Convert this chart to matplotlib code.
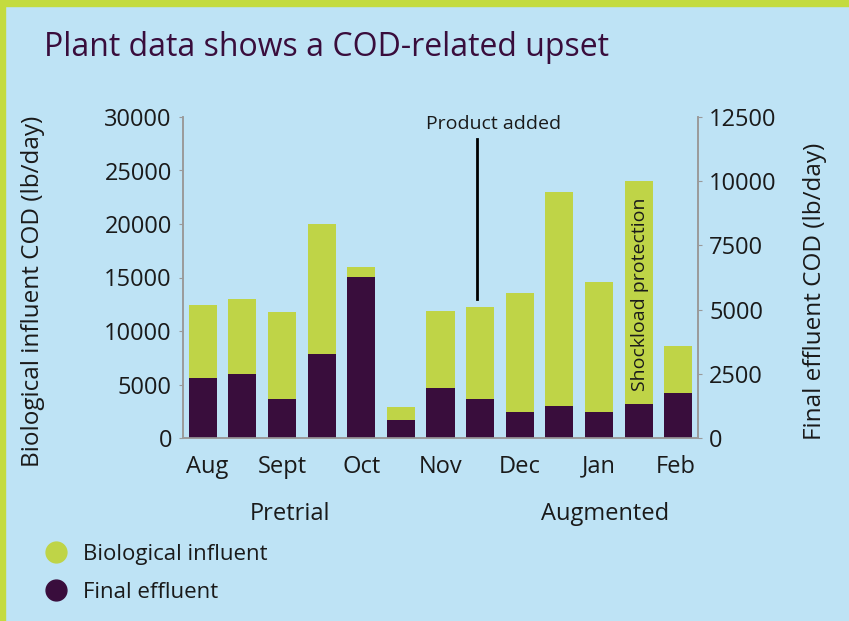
import matplotlib
matplotlib.use("Agg")
from matplotlib import pyplot as plt
from matplotlib.lines import Line2D
from matplotlib.patches import Rectangle

plt.rcParams['font.family'] = ['Open Sans', 'DejaVu Sans']

# data (lb/day)
influent = [12430, 12960, 11750, 20000, 15980, 2930, 11900,
            12240, 13520, 23020, 14550, 24020, 8570]
effluent = [2325, 2480, 1520, 3270, 6280, 700, 1960,
            1520, 1000, 1230, 1000, 1310, 1740]
months = ["Aug", "Sept", "Oct", "Nov", "Dec", "Jan", "Feb"]
month_pos = [0.1, 2, 4, 6, 8, 10, 11.95]
phases = ["Pretrial", "Augmented"]
phase_pos = [2.2, 10.15]

bg = "#bee3f5"
green = "#bfd447"
purple = "#390d3c"
spine = "#9a9a9a"
text_col = "#1a1a1a"

fig = plt.figure(figsize=(8.49, 6.21), dpi=100)
fig.patch.set_facecolor(bg)
# border strips at top and left
fig.patches.append(Rectangle((0, 1 - 6 / 621), 1, 6 / 621, transform=fig.transFigure,
                             color="#c4db3f", zorder=0))
fig.patches.append(Rectangle((0, 0), 5 / 849, 1, transform=fig.transFigure,
                             color="#c4db3f", zorder=0))

ax = fig.add_axes([183 / 849, 1 - 438 / 621, (698 - 183) / 849, (438 - 117) / 621])
ax.set_facecolor("none")
ax2 = ax.twinx()

x = list(range(len(influent)))
ax.bar(x, influent, width=0.71, color=green)
ax2.bar(x, effluent, width=0.71, color=purple)

ax.set_xlim(-0.5, 12.5)
ax.set_ylim(0, 30000)
ax2.set_ylim(0, 12500)
ax.set_yticks(range(0, 30001, 5000))
ax2.set_yticks(range(0, 12501, 2500))
ax.set_xticks(month_pos)
ax.set_xticklabels(months)

for a in (ax, ax2):
    a.spines['top'].set_visible(False)
    for s in ('left', 'right', 'bottom'):
        a.spines[s].set_color(spine)
        a.spines[s].set_linewidth(1.2)
    a.tick_params(axis='y', length=3, color=spine, labelsize=17, labelcolor=text_col, pad=5)
ax.tick_params(axis='x', length=0, labelsize=17, labelcolor=text_col, pad=12)

ax.set_ylabel("Biological influent COD (lb/day)", fontsize=17.5, color=text_col)
ax2.set_ylabel("Final effluent COD (lb/day)", fontsize=17.5, color=text_col)
ax.yaxis.set_label_coords(-0.268, 0.457)
ax2.yaxis.set_label_coords(1.204, 0.457)

for name, pos in zip(phases, phase_pos):
    ax.text(pos, -7100, name, ha='center', va='center', fontsize=17, color=text_col)

# annotations
ax.plot([6.91, 6.91], [12960, 27900], color="black", lw=2)
ax.text(7.35, 29300, "Product added", ha='center', va='center', fontsize=14, color=text_col)
ax.text(11.03, 4350, "Shockload protection", rotation=90, ha='center', va='bottom',
        fontsize=14, color=text_col)

fig.text(44 / 849, 1 - 48 / 621, "Plant data shows a COD-related upset", fontsize=23,
         color=purple, va='center', ha='left')

handles = [Line2D([], [], marker='o', ls='', markersize=15, color=green),
           Line2D([], [], marker='o', ls='', markersize=15, color=purple)]
fig.legend(handles, ["Biological influent", "Final effluent"], loc='upper left',
           bbox_to_anchor=(14 / 849, 1 - 524 / 621), frameon=False, fontsize=16,
           handletextpad=0.2, labelspacing=0.75, labelcolor=text_col)

fig.savefig("out.png", dpi=100, facecolor=bg)
